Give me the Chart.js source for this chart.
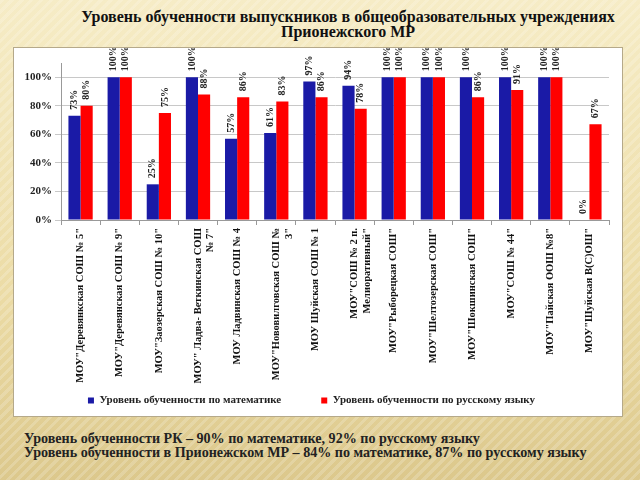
<!DOCTYPE html>
<html>
<head>
<meta charset="utf-8">
<script src="https://cdn.jsdelivr.net/npm/chart.js@4/dist/chart.umd.min.js"></script>
<style>
    html, body {
        margin: 0;
        padding: 0;
        width: 640px;
        height: 480px;
        overflow: hidden;
    }
    body {
        position: relative;
        font-family: "Liberation Serif", "DejaVu Serif", serif;
        background:
            repeating-linear-gradient(135deg, rgba(255,255,255,0.18) 0 3px, rgba(0,0,0,0) 3px 7px),
            linear-gradient(180deg, #f6ecc6 0%, #ecdca6 60%, #dcc88c 100%);
    }
    .title {
        position: absolute;
        left: 50px;
        width: 596px;
        top: 9px;
        text-align: center;
        font-weight: bold;
        font-size: 16px;
        line-height: 15px;
        color: #111;
    }
    .panel {
        position: absolute;
        left: 13px;
        top: 47px;
        width: 608px;
        height: 368px;
        background: #fff;
        border: 1px solid #b5a98a;
    }
    .notes {
        position: absolute;
        left: 24px;
        top: 431px;
        font-weight: bold;
        font-size: 14.1px;
        line-height: 14px;
        color: #222;
    }
</style>
</head>
<body>
<div class="title">Уровень обученности выпускников в общеобразовательных учреждениях<br>Прионежского МР</div>
<div class="panel"><canvas id="chart" width="608" height="368"></canvas></div>
<div class="notes">
    Уровень обученности РК – 90% по математике, 92% по русскому языку<br>
    Уровень обученности в Прионежском МР – 84% по математике, 87% по русскому языку
</div>
<script>
const schools = [
    ['МОУ"Деревянкская СОШ № 5"'],
    ['МОУ"Деревянская СОШ № 9"'],
    ['МОУ"Заозерская СОШ № 10"'],
    ['МОУ" Ладва- Веткинская СОШ', '№ 7"'],
    ['МОУ Ладвинская СОШ № 4'],
    ['МОУ"Нововилговская СОШ №', '3"'],
    ['МОУ Шуйская СОШ № 1'],
    ['МОУ"СОШ № 2 п.', 'Мелиоративный"'],
    ['МОУ"Рыборецкая СОШ"'],
    ['МОУ"Шелтозерская СОШ"'],
    ['МОУ"Шокшинская СОШ"'],
    ['МОУ"СОШ № 44"'],
    ['МОУ"Пайская ООШ №8"'],
    ['МОУ"Шуйская В(С)ОШ"']
];
const mathLevel = [73, 100, 25, 100, 57, 61, 97, 94, 100, 100, 100, 100, 100, 0];
const russianLevel = [80, 100, 75, 88, 86, 83, 86, 78, 100, 100, 86, 91, 100, 67];
const yTicks = [0, 20, 40, 60, 80, 100];

const serif = '"Liberation Serif", "DejaVu Serif", serif';

// vertical value labels above each bar
const barLabels = {
    id: 'barLabels',
    afterDatasetsDraw(chart) {
        const ctx = chart.ctx;
        ctx.save();
        ctx.font = 'bold 10px ' + serif;
        ctx.fillStyle = '#222';
        ctx.textAlign = 'left';
        ctx.textBaseline = 'middle';
        chart.data.datasets.forEach((ds, i) => {
            chart.getDatasetMeta(i).data.forEach((bar, j) => {
                ctx.save();
                ctx.translate(bar.x, bar.y - 6);
                ctx.rotate(-Math.PI / 2);
                ctx.fillText(ds.data[j] + '%', 0, 0);
                ctx.restore();
            });
        });
        ctx.restore();
    }
};

new Chart(document.getElementById('chart'), {
    type: 'bar',
    data: {
        labels: schools,
        datasets: [{
            label: 'Уровень обученности по математике',
            data: mathLevel,
            backgroundColor: '#1a1aa6',
            barPercentage: 1,
            categoryPercentage: 0.62
        }, {
            label: 'Уровень обученности по русскому языку',
            data: russianLevel,
            backgroundColor: '#ff0000',
            barPercentage: 1,
            categoryPercentage: 0.62
        }]
    },
    options: {
        responsive: false,
        animation: false,
        layout: {
            padding: { top: 15, right: 13, left: 0, bottom: 0 }
        },
        plugins: {
            legend: {
                position: 'bottom',
                labels: {
                    boxWidth: 6,
                    boxHeight: 6,
                    padding: 40,
                    color: '#222',
                    font: { family: serif, size: 11, weight: 'bold' }
                }
            },
            tooltip: { enabled: false }
        },
        scales: {
            x: {
                afterFit(scale) {
                    // long names run down into the legend strip, so no clipping
                    scale.height = 135;
                    scale._computeLabelArea = () => undefined;
                },
                grid: {
                    drawOnChartArea: false,
                    offset: true,
                    tickLength: 5,
                    color: '#999'
                },
                border: { color: '#999' },
                ticks: {
                    minRotation: 90,
                    maxRotation: 90,
                    color: '#111',
                    font: { family: serif, size: 10.5, weight: 'bold' },
                    autoSkip: false
                }
            },
            y: {
                min: 0,
                max: 110,
                afterBuildTicks(axis) {
                    axis.ticks = yTicks.map(v => ({ value: v }));
                },
                afterFit(scale) {
                    scale.width = 47;
                },
                grid: { color: '#c8c8c8', tickLength: 6 },
                border: { color: '#999' },
                ticks: {
                    color: '#222',
                    font: { family: serif, size: 11, weight: 'bold' },
                    callback: v => v + '%'
                }
            }
        }
    },
    plugins: [barLabels]
});
</script>
</body>
</html>
